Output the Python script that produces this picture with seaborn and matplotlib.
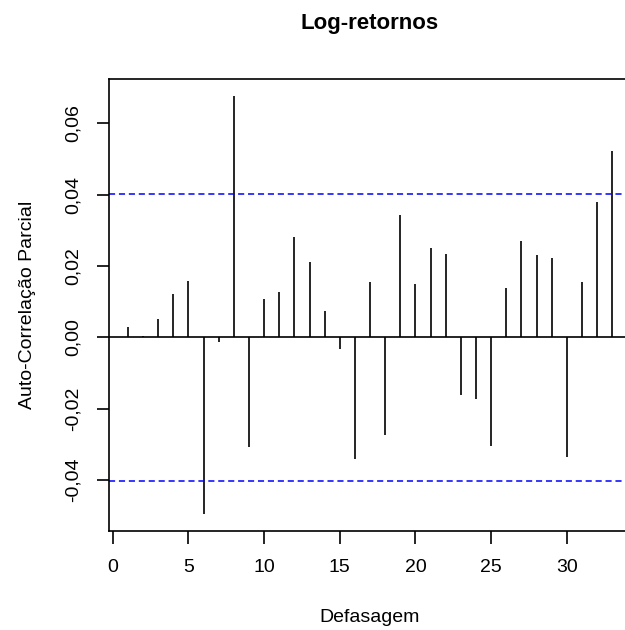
import numpy as np
import pandas as pd
import seaborn as sns
import matplotlib
matplotlib.use("Agg")
import matplotlib.pyplot as plt
from matplotlib.ticker import FuncFormatter

# partial autocorrelation values
lags = list(range(1, 34))
pacf_vals = [0.0029, 0.0003, 0.0050, 0.0122, 0.0157, -0.0496, -0.0012, 0.0677,
             -0.0307, 0.0106, 0.0127, 0.0280, 0.0212, 0.0075, -0.0032, -0.0342,
             0.0156, -0.0273, 0.0344, 0.0150, 0.0251, 0.0234, -0.0161, -0.0174,
             -0.0304, 0.0138, 0.0269, 0.0230, 0.0221, -0.0335, 0.0156, 0.0378,
             0.0521]
conf_limit = 0.0403
x_ticks = [0, 5, 10, 15, 20, 25, 30]
y_ticks = [-0.04, -0.02, 0.00, 0.02, 0.04, 0.06]

df = pd.DataFrame({'lag': lags, 'pacf': pacf_vals})

sns.set_theme(style="white")
plt.rcParams['font.family'] = ['Liberation Sans', 'DejaVu Sans']
plt.rcParams['text.color'] = 'black'
plt.rcParams['axes.labelcolor'] = 'black'

fig = plt.figure(figsize=(6.25, 6.3), dpi=100)
# R-like plot region (right side of the box falls just outside the image)
ax = fig.add_axes([108.5 / 625, 1 - 531 / 630, (631.6 - 108.5) / 625, (531 - 79) / 630])

# R-style limits: data range extended by 4%
x_lo, x_hi = df['lag'].min(), df['lag'].max()
dx = (x_hi - x_lo) * 0.04
y_lo = min(df['pacf'].min(), -conf_limit)
y_hi = max(df['pacf'].max(), conf_limit)
dy = (y_hi - y_lo) * 0.04
ax.set_xlim(x_lo - dx, x_hi + dx)
ax.set_ylim(y_lo - dy, y_hi + dy)

# spikes
ax.vlines(df['lag'], 0, df['pacf'], color='black', linewidth=1.2)
ax.axhline(0, color='black', linewidth=1.2)
ax.axhline(conf_limit, color='#0000ff', linewidth=1.1, linestyle=(0, (4, 2.5)))
ax.axhline(-conf_limit, color='#0000ff', linewidth=1.1, linestyle=(0, (4, 2.5)))

for s in ax.spines.values():
    s.set_color('black')
    s.set_linewidth(1.2)

ax.set_xticks(x_ticks)
ax.set_yticks(y_ticks)
ax.yaxis.set_major_formatter(FuncFormatter(lambda v, p: f"{v:.2f}".replace('.', ',').replace('-0,00', '0,00')))
ax.tick_params(axis='both', which='major', direction='out', length=9, width=1.2,
               color='black', labelsize=14, labelcolor='black',
               bottom=True, left=True)
ax.tick_params(axis='x', pad=11)
ax.tick_params(axis='y', pad=10)
plt.setp(ax.get_yticklabels(), rotation=90, va='center')

ax.set_title('Log-retornos', fontsize=16, fontweight='bold', y=(531 - 29) / 452, pad=0)
ax.set_xlabel('Defasagem', fontsize=14, va='center')
ax.set_ylabel('Auto-Correlação Parcial', fontsize=14, va='center', ha='center')
ax.xaxis.set_label_coords(0.5, (531 - 617) / 452)
ax.yaxis.set_label_coords((28 - 108.5) / 523.1, 0.5)

fig.savefig('out.png', dpi=100, facecolor='white')
